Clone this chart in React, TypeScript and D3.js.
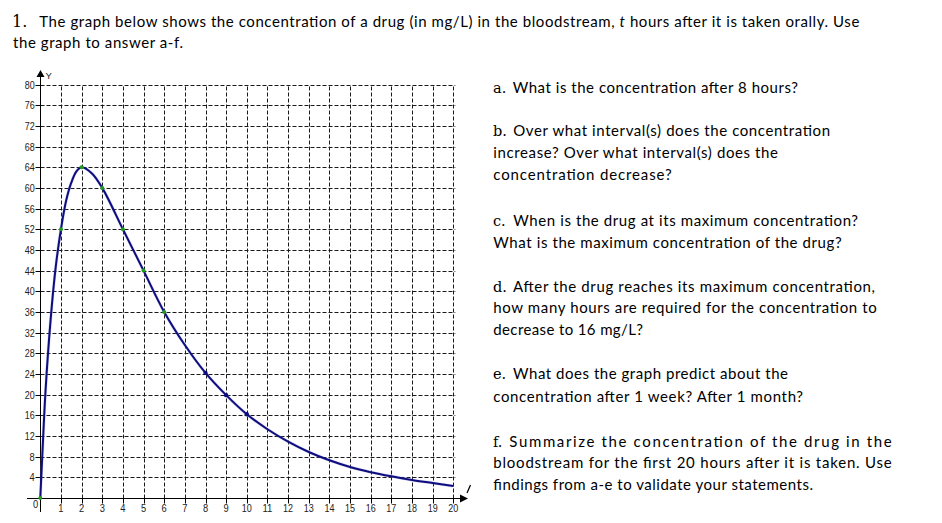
import React from "react";
import * as d3 from "d3";

// ---- data ----
const hourTicks = [1, 2, 3, 4, 5, 6, 7, 8, 9, 10, 11, 12, 13, 14, 15, 16, 17, 18, 19, 20];
const concTicks = [4, 8, 12, 16, 20, 24, 28, 32, 36, 40, 44, 48, 52, 56, 60, 64, 68, 72, 76, 80];

const curveHours = [0, 0.1, 0.25, 0.5, 0.75, 1, 1.25, 1.5, 1.75, 2, 2.5, 3, 4, 5, 6, 7, 8, 9, 10, 11, 12, 13, 14, 15, 16, 17, 18, 19, 20];
const curveConc = [0, 8.5, 20.5, 34.5, 44.8, 52, 57.5, 61, 63.2, 64, 62.8, 60, 52, 44, 36, 29.6, 24.2, 19.9, 16.2, 13.3, 10.9, 8.9, 7.3, 6.0, 5.0, 4.2, 3.5, 2.9, 2.3];

const greenDotHours = [0, 1, 2, 3, 4, 5, 6];
const greenDotConc = [0, 52, 64, 60, 52, 44, 36];
const blueDotHours = [8, 9, 10];
const blueDotConc = [24.2, 19.9, 16.2];

const questionLabels = ["a.", "b.", "c.", "d.", "e.", "f."];
const questionLines = [
  ["What is the concentration after 8 hours?"],
  ["Over what interval(s) does the concentration", "increase? Over what interval(s) does the", "concentration decrease?"],
  ["When is the drug at its maximum concentration?", "What is the maximum concentration of the drug?"],
  ["After the drug reaches its maximum concentration,", "how many hours are required for the concentration to", "decrease to 16 mg/L?"],
  ["What does the graph predict about the", "concentration after 1 week? After 1 month?"],
  ["Summarize the concentration of the drug in the", "bloodstream for the first 20 hours after it is taken. Use", "findings from a-e to validate your statements."],
];

// ---- layout (positions) ----
const qBaselines = [[92.7], [136, 158, 180], [226, 247.7], [291.7, 313.3, 335], [379.3, 401.7], [446.7, 468.3, 490]];
const qEnds = [[798], [830, 778, 671.7], [858, 841.7], [875, 876.7, 643], [788, 803], [891.7, 891.7, 813]];
const qFirstStart = [512.7, 513.3, 513.3, 513, 513, 509.3];

const FONT = "Lato, 'Open Sans', sans-serif";
const SERIF = "'DejaVu Serif', 'Liberation Serif', serif";
const AXFONT = "'Liberation Sans', Arial, sans-serif";

export default function App() {
  const x = d3.scaleLinear().domain([0, 20]).range([40.3, 453.3]);
  const y = d3.scaleLinear().domain([0, 80]).range([498, 84.5]);
  const pts: [number, number][] = curveHours.map((h, i) => [h, curveConc[i]]);
  const line = d3
    .line<[number, number]>()
    .x((d) => x(d[0]))
    .y((d) => y(d[1]))
    .curve(d3.curveCatmullRom.alpha(0.5));

  const gx0 = Math.round(x(0)) + 0.5;
  const gy0 = Math.round(y(0)) + 0.5;
  const gridColor = "#1a1a1a";

  return (
    <svg
      width={942}
      height={523}
      style={{ position: "absolute", left: 0, top: 0, background: "#fff" }}
    >
      <rect x={0} y={0} width={942} height={523} fill="#fff" />
      {/* title */}
      <text x={12} y={27} fontFamily={SERIF} fontSize={16} fill="#000">1.</text>
      <text x={39.3} y={27} fontFamily={FONT} fontSize={15} fill="#000" textLength={820} lengthAdjust="spacing">
        <tspan>The graph below shows the concentration of a drug (in mg/L) in the bloodstream, </tspan>
        <tspan fontStyle="italic">t</tspan>
        <tspan> hours after it is taken orally. Use</tspan>
      </text>
      <text x={13} y={47.5} fontFamily={FONT} fontSize={15} fill="#000" textLength={170} lengthAdjust="spacing">
        the graph to answer a-f.
      </text>

      {/* questions */}
      {questionLines.map((lines, qi) => (
        <g key={qi}>
          <text x={493} y={qBaselines[qi][0]} fontFamily={SERIF} fontSize={14.5} fill="#000">
            {questionLabels[qi]}
          </text>
          {lines.map((ln, li) => {
            const sx = li === 0 ? qFirstStart[qi] : 493.3;
            return (
              <text
                key={li}
                x={sx}
                y={qBaselines[qi][li]}
                fontFamily={FONT}
                fontSize={15}
                fill="#000"
                textLength={qEnds[qi][li] - sx}
                lengthAdjust="spacing"
              >
                {ln}
              </text>
            );
          })}
        </g>
      ))}

      {/* grid */}
      <g stroke={gridColor} strokeWidth={1} strokeDasharray="4,2" fill="none">
        {concTicks.map((c) => {
          const yy = Math.round(y(c)) + 0.5;
          return <line key={"h" + c} x1={gx0} x2={x(20) + 2} y1={yy} y2={yy} />;
        })}
        {hourTicks.map((h) => {
          const xx = Math.round(x(h)) + 0.5;
          return <line key={"v" + h} x1={xx} x2={xx} y1={gy0} y2={y(80)} />;
        })}
      </g>

      {/* axes */}
      <g stroke="#000" strokeWidth={1} fill="none">
        <line x1={27} x2={461} y1={gy0} y2={gy0} />
        <line x1={gx0} x2={gx0} y1={512} y2={76} />
        {concTicks.map((c) => {
          const yy = Math.round(y(c)) + 0.5;
          return <line key={"yt" + c} x1={gx0 - 5} x2={gx0} y1={yy} y2={yy} />;
        })}
        {hourTicks.map((h) => {
          const xx = Math.round(x(h)) + 0.5;
          return <line key={"xt" + h} x1={xx} x2={xx} y1={gy0} y2={gy0 + 5} />;
        })}
        <line x1={467} x2={470.5} y1={493} y2={485} strokeWidth={1.2} />
      </g>
      <path d={`M${gx0},70 L${gx0 - 4},77 L${gx0 + 4},77 Z`} fill="#000" />
      <path d={`M468,${gy0} L460,${gy0 - 4} L460,${gy0 + 4} Z`} fill="#000" />
      <text x={45.5} y={79} fontFamily={AXFONT} fontSize={9.5} fill="#222">Y</text>

      {/* tick labels */}
      <g fontFamily={AXFONT} fontSize={11.5} fill="#222">
        {concTicks.map((c) => {
          const w = c >= 10 ? 10 : 5.2;
          return (
            <text key={"yl" + c} x={34.8 - w} y={y(c) + 4} textLength={w} lengthAdjust="spacingAndGlyphs">
              {c}
            </text>
          );
        })}
        <text x={33} y={508.3} textLength={5.2} lengthAdjust="spacingAndGlyphs">0</text>
        {hourTicks.map((h) => {
          const w = h >= 10 ? 10 : 5.2;
          return (
            <text key={"xl" + h} x={x(h) - w / 2} y={511.8} textLength={w} lengthAdjust="spacingAndGlyphs">
              {h}
            </text>
          );
        })}
      </g>

      {/* curve */}
      <path d={line(pts) || ""} fill="none" stroke="#8d8dd0" strokeWidth={3} strokeOpacity={0.35} />
      <path d={line(pts) || ""} fill="none" stroke="#0d0d80" strokeWidth={2} />
      {greenDotHours.map((h, i) => (
        <circle key={"g" + h} cx={x(h)} cy={y(greenDotConc[i])} r={2} fill="#1f9a1f" />
      ))}
      {blueDotHours.map((h, i) => (
        <circle key={"b" + h} cx={x(h)} cy={y(blueDotConc[i])} r={2.2} fill="#0d0d80" />
      ))}
    </svg>
  );
}
